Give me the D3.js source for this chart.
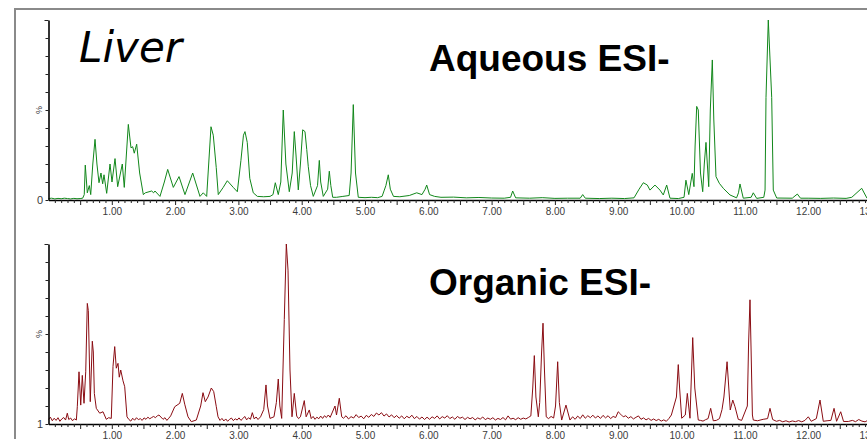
<!DOCTYPE html>
<html>
<head>
<meta charset="utf-8">
<script src="https://cdn.jsdelivr.net/npm/d3@7"></script>
<style>
  html, body { margin: 0; padding: 0; background: #fff; overflow: hidden; }
  svg { display: block; }
  .tick text { font-family: "Liberation Sans", Arial, sans-serif; font-size: 10px; fill: #3a3a3a; }
</style>
</head>
<body>
<div id="chart"></div>
<script>
// chromatogram traces, [retention time (min), intensity (%)]
var aqueousTrace = [
  [0.00,0.8],[0.05,1.0],[0.10,0.6],[0.15,0.9],[0.20,0.7],[0.25,1.0],[0.30,0.8],[0.35,0.6],[0.40,0.9],[0.45,0.7],[0.50,0.8],[0.54,1.0],
  [0.565,3],[0.581,19.4],[0.613,4],[0.645,8],[0.667,3],[0.70,20],[0.735,33.7],[0.765,20],[0.798,9.6],[0.829,15],[0.856,9],[0.877,14],
  [0.919,3.7],[0.972,20],[1.003,10],[1.051,23],[1.093,7.4],[1.166,20],[1.197,7],[1.261,42],[1.303,29],[1.330,29.6],[1.355,26],[1.393,31],
  [1.44,15],[1.498,3],[1.53,4],[1.63,5],[1.66,4],[1.682,5],[1.761,2],[1.83,10],[1.883,17],[1.972,7],[2.062,13],[2.156,3],[2.278,15],
  [2.393,2],[2.445,4],[2.499,2],[2.567,40.7],[2.603,36],[2.65,18],[2.682,3],[2.76,7],[2.825,10.7],[2.919,7],[2.983,4.6],[3.04,22],
  [3.08,36],[3.104,38],[3.14,32],[3.18,12],[3.235,4],[3.30,2],[3.40,1.8],[3.50,2],[3.547,3],[3.583,9.6],[3.630,3],[3.67,10],[3.709,50],
  [3.75,20],[3.804,4.6],[3.85,15],[3.883,38],[3.91,25],[3.946,5.6],[3.98,20],[4.016,39],[4.052,38],[4.08,28],[4.104,18.5],[4.14,8],
  [4.183,2],[4.25,8],[4.278,22],[4.30,10],[4.341,2],[4.41,6],[4.436,16],[4.46,8],[4.490,1.5],[4.55,1.5],[4.65,2],[4.75,2.5],[4.78,15],
  [4.815,53],[4.85,15],[4.894,1.5],[5.0,1.3],[5.1,1.5],[5.2,1.3],[5.27,2],[5.305,5.5],[5.33,8],[5.368,14],[5.40,6],[5.45,2],[5.55,1.8],
  [5.70,2.5],[5.817,4],[5.90,3],[5.95,6],[5.975,8.3],[6.02,3],[6.10,2],[6.2,1.5],[6.4,1.6],[6.6,1.2],[6.8,1.4],[7.0,1.1],[7.2,1.0],
  [7.30,1.5],[7.333,5],[7.38,1.2],[7.6,1.0],[7.8,1.3],[8.0,0.9],[8.2,1.0],[8.4,1.0],[8.439,3],[8.48,1.0],[8.7,0.8],[8.9,1.0],[9.1,0.8],
  [9.25,1.2],[9.33,6],[9.397,9.6],[9.46,8.3],[9.502,5.5],[9.581,8.3],[9.660,5.5],[9.712,2.8],[9.766,8.3],[9.818,1],[9.95,0.8],[10.04,1.5],
  [10.07,11],[10.115,3],[10.17,14.8],[10.197,7.4],[10.215,30],[10.24,52],[10.265,50],[10.30,15],[10.335,4.6],[10.36,20],[10.387,32],
  [10.43,7.4],[10.455,50],[10.487,77.8],[10.51,45],[10.545,13],[10.597,9.3],[10.66,6.5],[10.766,2.8],[10.87,1.2],[10.90,4],[10.924,8.9],
  [10.976,1],[11.10,1.5],[11.134,4],[11.188,0.9],[11.30,1.5],[11.32,5.5],[11.335,57],[11.371,100],[11.425,57],[11.45,5.5],[11.504,1.1],
  [11.75,1],[11.83,3.3],[11.88,1],[12.0,1],[12.2,0.9],[12.4,1.1],[12.6,0.9],[12.69,1.5],[12.847,6.5],[12.93,1],[13.2,0.9],[13.6,1]
];

var organicTrace = [
  [0.00,2.5],[0.03,3.8],[0.06,1.8],[0.09,3.2],[0.12,2.0],[0.15,3.5],[0.18,1.5],[0.21,2.8],[0.24,3.6],[0.27,2.2],[0.297,6],[0.32,2.5],
  [0.35,3.3],[0.38,1.8],[0.41,2.9],[0.44,2.2],[0.455,9.6],[0.482,29],[0.509,10.5],[0.534,27],[0.561,11.5],[0.588,29],[0.613,67],[0.629,63],
  [0.66,12.4],[0.692,46],[0.708,40],[0.724,17],[0.755,8.7],[0.809,6],[0.861,6.8],[0.913,2.6],[0.95,3.5],[0.992,3.1],[1.019,32],[1.046,43],
  [1.071,31],[1.098,33.7],[1.118,26],[1.141,30],[1.177,24],[1.204,20.7],[1.24,4],[1.27,2.5],[1.30,1.6],[1.33,3.2],[1.36,2.1],[1.39,3.5],
  [1.42,2.4],[1.45,3.0],[1.48,2.0],[1.51,3.4],[1.54,2.6],[1.57,3.8],[1.60,2.9],[1.63,3.6],[1.66,4.2],[1.69,3.5],[1.72,4.6],[1.745,5],
  [1.81,2.6],[1.84,3.5],[1.87,2.0],[1.90,3.2],[1.93,4.5],[1.994,9.6],[2.073,11.5],[2.114,17],[2.152,11],[2.204,4],[2.256,1.3],[2.335,2.2],
  [2.404,10],[2.441,17.4],[2.477,12.4],[2.52,15],[2.572,20],[2.61,18],[2.651,9.6],[2.678,4],[2.71,2.0],[2.74,3.1],[2.77,1.7],[2.80,2.8],
  [2.83,1.5],[2.86,2.6],[2.89,3.3],[2.92,1.9],[2.95,2.9],[2.98,2.2],[3.01,3.4],[3.04,2.0],[3.07,3.0],[3.10,4.2],[3.13,2.3],[3.16,3.5],
  [3.19,2.6],[3.22,6.3],[3.25,2.8],[3.28,3.9],[3.31,2.5],[3.35,4],[3.40,8],[3.436,21.7],[3.46,10],[3.499,3.1],[3.562,4],[3.60,12],[3.63,25],
  [3.655,10],[3.684,3.1],[3.725,58],[3.757,100],[3.784,85.5],[3.815,30],[3.847,4],[3.883,17],[3.921,4.4],[3.95,3],[3.98,4],[4.041,13],
  [4.07,4],[4.12,7.8],[4.15,3],[4.18,4.2],[4.21,2.6],[4.24,3.8],[4.27,2.9],[4.30,4.4],[4.33,3.1],[4.36,4.6],[4.39,3.6],[4.42,5.0],[4.45,3.7],
  [4.526,10],[4.55,5],[4.594,14.3],[4.632,4],[4.66,3.2],[4.70,4.6],[4.74,2.8],[4.78,4.1],[4.82,3.3],[4.86,5.2],[4.90,3.6],[4.94,4.4],
  [4.98,2.9],[5.02,4.8],[5.06,3.7],[5.10,5.3],[5.14,4.2],[5.18,6.1],[5.22,5.0],[5.26,6.3],[5.30,4.4],[5.34,5.6],[5.38,3.9],[5.42,5.1],
  [5.46,3.5],[5.50,4.7],[5.54,3.2],[5.58,4.5],[5.62,2.9],[5.66,4.3],[5.70,3.4],[5.74,4.9],[5.78,3.0],[5.82,4.2],[5.86,2.7],[5.90,3.9],
  [5.94,2.5],[5.98,3.8],[6.02,2.6],[6.06,4.0],[6.10,3.1],[6.14,4.5],[6.18,2.8],[6.22,4.1],[6.26,3.3],[6.30,4.6],[6.34,3.0],[6.38,3.9],
  [6.42,2.6],[6.46,4.2],[6.50,3.2],[6.54,3.8],[6.58,2.5],[6.62,3.7],[6.66,2.9],[6.70,3.6],[6.74,2.3],[6.78,3.4],[6.82,2.7],[6.86,3.9],
  [6.90,2.4],[6.94,3.3],[6.98,2.6],[7.02,3.5],[7.06,2.2],[7.10,3.1],[7.14,2.5],[7.18,3.6],[7.22,2.3],[7.26,4.5],[7.30,2.7],[7.34,3.2],
  [7.38,2.4],[7.42,3.5],[7.46,2.6],[7.50,3.3],[7.54,2.8],[7.58,3.6],[7.62,4.5],[7.65,20],[7.675,38],[7.70,15],[7.738,4],[7.76,12],
  [7.79,40],[7.812,56],[7.835,30],[7.863,4],[7.90,3.0],[7.94,4.2],[7.98,3.3],[8.01,10],[8.044,34.6],[8.07,12],[8.107,2.2],[8.175,10.5],
  [8.238,2.2],[8.28,4.0],[8.32,2.6],[8.36,4.4],[8.40,3.0],[8.44,5.1],[8.48,3.2],[8.52,4.6],[8.56,3.5],[8.60,4.9],[8.64,3.3],[8.68,4.5],
  [8.72,3.1],[8.76,4.8],[8.80,3.4],[8.84,4.6],[8.88,3.0],[8.92,4.2],[8.96,3.6],[9.00,6.8],[9.04,5.4],[9.08,4.0],[9.12,4.6],[9.16,3.2],
  [9.20,4.1],[9.24,2.8],[9.28,3.7],[9.32,4.5],[9.36,2.6],[9.40,3.4],[9.44,2.3],[9.48,3.1],[9.52,2.0],[9.56,2.8],[9.60,1.9],[9.64,2.6],
  [9.68,1.6],[9.72,2.3],[9.76,1.5],[9.80,3.0],[9.84,5],[9.92,15],[9.949,33],[9.97,20],[10.003,3.2],[10.06,5],[10.092,17],[10.134,3.2],
  [10.15,20],[10.177,48],[10.21,20],[10.265,2.2],[10.30,2.0],[10.34,1.6],[10.38,2.4],[10.42,3],[10.461,8.7],[10.502,1.8],[10.55,2.0],
  [10.60,3.0],[10.64,8],[10.67,15],[10.72,34.6],[10.77,7.8],[10.81,13.3],[10.845,9.6],[10.897,2.6],[10.95,2.0],[11.04,10],[11.06,45],
  [11.082,69],[11.10,40],[11.12,5],[11.134,2.2],[11.20,1.8],[11.29,2.6],[11.36,3],[11.398,8.7],[11.44,2.5],[11.50,1.5],[11.55,2.0],
  [11.60,1.2],[11.65,1.8],[11.70,1.1],[11.75,1.7],[11.80,1.3],[11.85,1.9],[11.90,1.2],[11.95,2.0],[12.003,4],[12.05,1.5],[12.13,3],
  [12.188,13.3],[12.24,1.5],[12.30,1.8],[12.36,2],[12.41,8.7],[12.45,1.5],[12.515,6.8],[12.56,1.4],[12.635,1.4],[12.70,2.0],[12.75,1.3],
  [12.80,2.5],[12.85,1.6],[12.90,1.2],[12.95,2.2],[13.0,1.5],[13.1,1.8],[13.2,1.3],[13.6,1.5]
];

var xMajorTicks = [1,2,3,4,5,6,7,8,9,10,11,12,13];
var yTickValues = [0,10,20,30,40,50,60,70,80,90,100];
var panels = [
  { title: "Aqueous ESI-", trace: aqueousTrace, color: "#11871a", baseLabel: "0" },
  { title: "Organic ESI-", trace: organicTrace, color: "#8a0c12", baseLabel: "1" }
];

var W = 867, H = 439;
var panelTop = [20, 244], panelH = 180;

var svg = d3.select("#chart").append("svg")
  .attr("width", W).attr("height", H);

// outer grey frame (right and bottom run off the picture)
svg.append("path")
  .attr("d", "M15," + H + "V9H" + W)
  .attr("fill", "none").attr("stroke", "#8a8a8a").attr("stroke-width", 2);

var x = d3.scaleLinear().domain([0, 13.6]).range([48.5, 48.5 + 13.6 * 63.3]);
var minorTicks = d3.range(1, 137).map(function(i) { return i / 10; });

panels.forEach(function(p, k) {
  var top = panelTop[k];
  var y = d3.scaleLinear().domain([0, 100]).range([top + panelH, top]);
  var g = svg.append("g");

  var line = d3.line()
    .x(function(d) { return x(d[0]); })
    .y(function(d) { return y(d[1]); });

  g.append("path")
    .datum(p.trace)
    .attr("d", line)
    .attr("fill", "none")
    .attr("stroke", p.color)
    .attr("stroke-width", 1)
    .attr("stroke-linejoin", "round");

  // x axis
  var xAxis = d3.axisBottom(x)
    .tickValues(minorTicks)
    .tickSize(3)
    .tickSizeOuter(0)
    .tickFormat(function(d) {
      var r = Math.round(d * 10);
      return xMajorTicks.indexOf(r / 10) >= 0 ? (r / 10).toFixed(2) : "";
    });
  var xa = g.append("g")
    .attr("transform", "translate(0," + (top + panelH) + ")")
    .call(xAxis);
  xa.select(".domain").attr("stroke", "#000").attr("stroke-width", 1.6);
  xa.selectAll(".tick line")
    .attr("stroke", "#222")
    .attr("y2", function(d) { return Math.round(d * 10) % 5 === 0 ? 5 : 3; });
  xa.selectAll(".tick text").attr("y", 8).attr("dy", "0.71em");

  // y axis
  var yAxis = d3.axisLeft(y)
    .tickValues(yTickValues)
    .tickSize(3)
    .tickSizeOuter(0)
    .tickFormat("");
  var ya = g.append("g")
    .attr("transform", "translate(48.5,0)")
    .call(yAxis);
  ya.select(".domain").attr("stroke", "#000").attr("stroke-width", 1.6);
  ya.selectAll(".tick line").attr("stroke", "#222")
    .attr("x2", function(d) { return d === 100 ? -4 : -3; });

  g.append("text")
    .attr("x", 40).attr("y", y(0) + 4)
    .attr("text-anchor", "middle")
    .style("font-family", "Liberation Sans, Arial, sans-serif")
    .style("font-size", "11px").attr("fill", "#3a3a3a")
    .text(p.baseLabel);

  g.append("text")
    .attr("transform", "translate(42," + y(50) + ") rotate(-90)")
    .attr("text-anchor", "middle")
    .style("font-family", "Liberation Sans, Arial, sans-serif")
    .style("font-size", "9px").attr("fill", "#3a3a3a")
    .text("%");

  g.append("text")
    .attr("x", 429).attr("y", top + 51)
    .style("font-family", "Liberation Sans, Arial, sans-serif")
    .style("font-weight", "bold")
    .style("font-size", "37px").attr("fill", "#000")
    .text(p.title);
});

svg.append("text")
  .attr("x", 79).attr("y", 62)
  .style("font-family", "DejaVu Sans, Verdana, sans-serif")
  .style("font-style", "italic")
  .style("font-size", "42px").attr("fill", "#000")
  .text("Liver");
</script>
</body>
</html>
